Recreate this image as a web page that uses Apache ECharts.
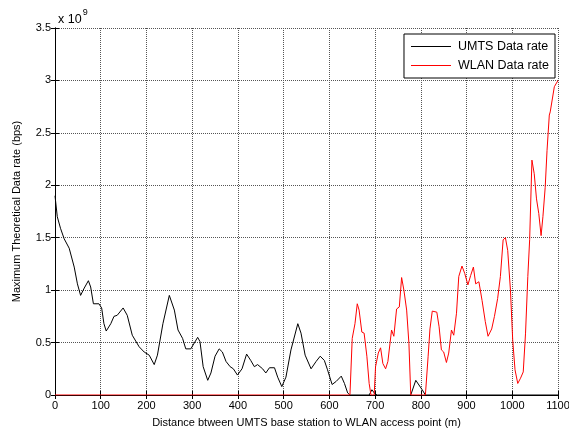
<!DOCTYPE html>
<html>
<head>
<meta charset="utf-8">
<script src="https://cdn.jsdelivr.net/npm/echarts@6/dist/echarts.min.js"></script>
<style>
  html, body { margin: 0; padding: 0; background: #fff; }
  #chart { width: 569px; height: 431px; }
</style>
</head>
<body>
<div id="chart"></div>
<script>
// distance (m) and rate (x 10^9 bps)
const umtsDist = [0, 5, 12, 20, 31, 42, 49, 56, 64, 73, 78, 84, 96, 102, 107, 112, 122, 129, 136, 149,
  158, 169, 184, 195, 206, 217, 224, 236, 250, 261, 269, 279, 286, 297, 312, 317, 324, 334, 341, 350,
  359, 366, 374, 383, 390, 399, 409, 419, 428, 436, 443, 454, 461, 469, 480, 487, 496, 505, 516, 531,
  538, 547, 560, 571, 580, 589, 596, 606, 615, 626, 633, 640, 645, 687, 693, 700, 705, 778, 789, 803,
  810, 1100];
const umtsRate = [1.90, 1.70, 1.59, 1.49, 1.40, 1.22, 1.06, 0.95, 1.02, 1.09, 1.03, 0.87, 0.87, 0.83, 0.68, 0.61, 0.68, 0.75, 0.76, 0.83,
  0.76, 0.57, 0.46, 0.41, 0.38, 0.29, 0.38, 0.68, 0.95, 0.81, 0.62, 0.54, 0.44, 0.44, 0.55, 0.51, 0.27, 0.14, 0.21, 0.37,
  0.44, 0.41, 0.32, 0.27, 0.25, 0.19, 0.25, 0.39, 0.33, 0.27, 0.29, 0.25, 0.21, 0.26, 0.26, 0.17, 0.08, 0.17, 0.43, 0.68,
  0.59, 0.38, 0.25, 0.32, 0.37, 0.33, 0.24, 0.10, 0.13, 0.18, 0.11, 0.02, 0, 0, 0.05, 0.01, 0, 0, 0.14, 0.05,
  0, 0];

const wlanDist = [0, 645, 650, 656, 661, 665, 671, 676, 682, 687, 691, 698, 701, 707, 712, 717, 723, 728, 736, 741,
  747, 753, 758, 763, 769, 774, 778, 810, 816, 820, 825, 835, 840, 845, 850, 856, 861, 867, 872, 878,
  883, 890, 896, 903, 909, 915, 920, 927, 934, 941, 947, 955, 961, 968, 974, 980, 985, 990, 996, 1001,
  1006, 1012, 1018, 1024, 1029, 1034, 1038, 1043, 1048, 1053, 1058, 1063, 1067, 1072, 1076, 1081, 1083, 1092, 1100];
const wlanRate = [0, 0, 0.54, 0.68, 0.87, 0.81, 0.60, 0.59, 0.37, 0.11, 0, 0, 0.27, 0.40, 0.45, 0.30, 0.25, 0.32, 0.62, 0.56,
  0.82, 0.84, 1.12, 1.00, 0.81, 0.49, 0, 0, 0.37, 0.63, 0.80, 0.79, 0.65, 0.43, 0.41, 0.31, 0.40, 0.62, 0.57, 0.78,
  1.13, 1.23, 1.16, 1.05, 1.14, 1.22, 1.06, 1.08, 0.90, 0.70, 0.56, 0.63, 0.75, 0.92, 1.13, 1.48, 1.50, 1.38, 1.00, 0.52,
  0.24, 0.11, 0.16, 0.22, 0.59, 1.13, 1.48, 2.24, 2.11, 1.87, 1.73, 1.52, 1.70, 1.98, 2.33, 2.67, 2.70, 2.94, 3.0];

const xTitle = 'Distance btween UMTS base station to WLAN access point (m)';
const yTitle = 'Maximum Theoretical Data rate (bps)';

function pairs(xs, ys) {
  return xs.map((x, i) => [x, ys[i]]);
}

const chart = echarts.init(document.getElementById('chart'));
const font = 'Liberation Sans, Arial, sans-serif';
const gridLine = { show: true, lineStyle: { color: '#555', width: 1, type: [1, 1] } };
const tick = { show: true, inside: true, length: 4, lineStyle: { color: '#000' } };

const option = {
  animation: false,
  textStyle: { fontFamily: font },
  title: {
    text: '{a|x 10}{b|9}',
    left: 53, top: 0,
    textStyle: {
      rich: {
        a: { fontSize: 12.5, color: '#000', fontFamily: font, fontWeight: 'normal', padding: [8, 0, 0, 0] },
        b: { fontSize: 9, color: '#000', fontFamily: font, fontWeight: 'normal', padding: [0, 0, 5, 1] }
      }
    }
  },
  grid: { left: 55, right: 11, top: 28, bottom: 36, outerBoundsMode: 'none' },
  legend: {
    orient: 'vertical',
    right: 14, top: 34,
    backgroundColor: '#fff',
    borderColor: '#000', borderWidth: 1,
    padding: [6, 6, 6, 7],
    itemGap: 6,
    itemWidth: 40, itemHeight: 1,
    icon: 'rect',
    textStyle: { fontSize: 12.5, color: '#000', fontFamily: font, padding: [0, 0, 0, 2] },
    data: ['UMTS Data rate', 'WLAN Data rate']
  },
  xAxis: [{
    type: 'value', min: 0, max: 1100, interval: 100,
    name: xTitle, nameLocation: 'middle', nameGap: 22,
    nameTextStyle: { fontSize: 11, color: '#000' },
    axisLine: { show: true, onZero: false, lineStyle: { color: '#000' } },
    axisTick: tick,
    axisLabel: { fontSize: 11, color: '#000', margin: 5, formatter: v => String(v) },
    splitLine: gridLine
  }, {
    type: 'value', min: 0, max: 1100, interval: 100, position: 'top',
    axisLine: { show: true, lineStyle: { color: '#000' } },
    axisTick: tick, axisLabel: { show: false }, splitLine: { show: false }
  }],
  yAxis: [{
    type: 'value', min: 0, max: 3.5, interval: 0.5,
    name: yTitle, nameLocation: 'middle', nameGap: 33, nameRotate: 90,
    nameTextStyle: { fontSize: 11, color: '#000' },
    axisLine: { show: true, lineStyle: { color: '#000' } },
    axisTick: tick,
    axisLabel: { fontSize: 11, color: '#000', margin: 4 },
    splitLine: gridLine
  }, {
    type: 'value', min: 0, max: 3.5, interval: 0.5, position: 'right',
    axisLine: { show: true, lineStyle: { color: '#000' } },
    axisTick: tick, axisLabel: { show: false }, splitLine: { show: false }
  }],
  series: [{
    name: 'UMTS Data rate', type: 'line', symbol: 'none',
    color: '#000', lineStyle: { width: 1, color: '#000' },
    data: pairs(umtsDist, umtsRate), z: 3
  }, {
    name: 'WLAN Data rate', type: 'line', symbol: 'none',
    color: '#ff0000', lineStyle: { width: 1, color: '#ff0000' },
    data: pairs(wlanDist, wlanRate), z: 4
  }]
};

chart.setOption(option);
</script>
</body>
</html>
